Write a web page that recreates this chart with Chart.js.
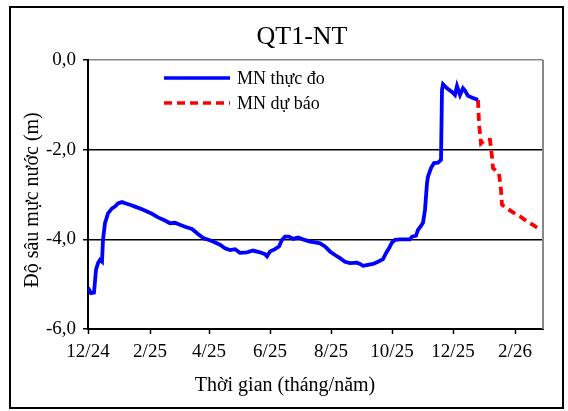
<!DOCTYPE html>
<html>
<head>
<meta charset="utf-8">
<script src="https://cdn.jsdelivr.net/npm/chart.js@4/dist/chart.umd.min.js"></script>
<style>
  body { margin: 0; background: #fff; }
  #wrap { width: 568px; height: 411px; }
</style>
</head>
<body>
<div id="wrap"><canvas id="gwChart" width="568" height="411"></canvas></div>
<script>
// ngày tính từ 1/12/2024
const obsDays = [0, 3, 6, 8, 10, 12, 14, 15, 17, 20, 24, 27, 30, 34, 38, 42, 47, 54, 59, 64, 70, 77, 82, 87, 90, 97, 104, 110, 116, 119, 125, 132, 137, 142, 147, 152, 159, 165, 172, 177, 179, 182, 187, 191, 194, 197, 201, 205, 210, 215, 222, 227, 232, 237, 242, 247, 252, 257, 262, 269, 272, 275, 280, 285, 290, 295, 298, 301, 304, 307, 312, 317, 322, 324, 328, 330, 333, 335, 337, 339, 340, 343, 346, 350, 353, 354, 355, 359, 364, 367, 369, 372, 375, 377, 380, 385, 390];
const obsDepth = [-5.08, -5.2, -5.19, -4.68, -4.53, -4.46, -4.5, -4.01, -3.64, -3.42, -3.31, -3.27, -3.2, -3.17, -3.2, -3.23, -3.27, -3.33, -3.38, -3.43, -3.51, -3.58, -3.64, -3.63, -3.66, -3.72, -3.77, -3.88, -3.98, -4.0, -4.05, -4.12, -4.2, -4.24, -4.22, -4.3, -4.29, -4.25, -4.29, -4.33, -4.38, -4.27, -4.22, -4.16, -4.01, -3.94, -3.94, -3.99, -3.96, -4.0, -4.05, -4.07, -4.09, -4.16, -4.27, -4.35, -4.42, -4.5, -4.53, -4.52, -4.55, -4.59, -4.57, -4.55, -4.5, -4.44, -4.31, -4.2, -4.07, -4.01, -4.0, -4.0, -4.0, -3.94, -3.92, -3.79, -3.7, -3.63, -3.34, -2.75, -2.6, -2.41, -2.3, -2.29, -2.23, -0.67, -0.54, -0.63, -0.71, -0.78, -0.58, -0.78, -0.63, -0.68, -0.8, -0.85, -0.89];

const fcDays = [390, 391, 393, 395, 398, 402, 404, 405, 409, 411, 413, 414, 419, 425, 432, 439, 445, 452];
const fcDepth = [-0.89, -1.41, -1.86, -1.82, -1.77, -1.78, -2.16, -2.41, -2.49, -2.53, -2.9, -3.23, -3.31, -3.4, -3.49, -3.6, -3.68, -3.78];

const tickDays = [0, 62, 121, 182, 243, 304, 365, 427];
const tickLabels = ["12/24", "2/25", "4/25", "6/25", "8/25", "10/25", "12/25", "2/26"];

const FONT = "'Liberation Serif', 'Times New Roman', serif";

const frame = {
  id: "frame",
  beforeDraw(chart) {
    const c = chart.ctx;
    c.save();
    c.fillStyle = "#fff";
    c.fillRect(0, 0, chart.width, chart.height);
    c.strokeStyle = "#000";
    c.lineWidth = 2;
    c.strokeRect(10, 7, 553, 401);
    c.restore();
  },
  afterDraw(chart) {
    const c = chart.ctx;
    const a = chart.chartArea;
    c.save();
    // vien phai mau xam
    c.strokeStyle = "#888";
    c.lineWidth = 2;
    c.beginPath();
    c.moveTo(a.right, a.top);
    c.lineTo(a.right, a.bottom);
    c.stroke();

    c.fillStyle = "#000";
    c.textAlign = "center";
    c.textBaseline = "middle";
    // tieu de
    c.font = "26px " + FONT;
    c.fillText("QT1-NT", 302, 37);
    // ten truc
    c.font = "20px " + FONT;
    c.fillText("Thời gian (tháng/năm)", 285, 386);
    c.save();
    c.translate(33, 200);
    c.rotate(-Math.PI / 2);
    c.fillText("Độ sâu mực nước (m)", 0, 0);
    c.restore();

    // chu giai
    c.lineWidth = 3.5;
    c.strokeStyle = "#0000ff";
    c.beginPath();
    c.moveTo(164, 78);
    c.lineTo(230, 78);
    c.stroke();
    c.strokeStyle = "#ff0000";
    c.setLineDash([8, 5]);
    c.beginPath();
    c.moveTo(164, 103);
    c.lineTo(230, 103);
    c.stroke();
    c.setLineDash([]);
    c.font = "18px " + FONT;
    c.textAlign = "left";
    c.fillText("MN thực đo", 237, 79);
    c.fillText("MN dự báo", 237, 104);
    c.restore();
  }
};

const ctx = document.getElementById("gwChart").getContext("2d");

new Chart(ctx, {
  type: "line",
  data: {
    datasets: [
      {
        label: "MN thực đo",
        data: obsDays.map((d, i) => ({ x: d, y: obsDepth[i] })),
        borderColor: "#0000ff",
        borderWidth: 3.8,
        pointRadius: 0,
        tension: 0
      },
      {
        label: "MN dự báo",
        data: fcDays.map((d, i) => ({ x: d, y: fcDepth[i] })),
        borderColor: "#ff0000",
        borderWidth: 3.8,
        borderDash: [8, 5],
        pointRadius: 0,
        tension: 0
      }
    ]
  },
  options: {
    responsive: false,
    animation: false,
    layout: { padding: { left: 18, right: 25, top: 60, bottom: 10 } },
    plugins: {
      legend: { display: false },
      title: { display: false },
      tooltip: { enabled: false }
    },
    scales: {
      x: {
        type: "linear",
        min: 0,
        max: 455,
        afterBuildTicks: s => { s.ticks = tickDays.map(v => ({ value: v })); },
        afterFit: s => { s.height = 411 - 329 - 10; },
        ticks: {
          color: "#000",
          font: { family: FONT, size: 19 },
          padding: 7,
          maxRotation: 0,
          autoSkip: false,
          callback: (v) => tickLabels[tickDays.indexOf(v)]
        },
        grid: { drawOnChartArea: false, tickLength: 5, tickColor: "#000", tickWidth: 1.5 },
        border: { color: "#000", width: 2 }
      },
      y: {
        min: -6,
        max: 0,
        afterBuildTicks: s => { s.ticks = [-6, -4, -2, 0].map(v => ({ value: v })); },
        afterFit: s => { s.width = 88 - 18; },
        ticks: {
          color: "#000",
          font: { family: FONT, size: 19 },
          padding: 7,
          callback: v => v.toFixed(1).replace(".", ",")
        },
        grid: {
          color: c => c.tick.value === 0 ? "#888" : (c.tick.value === -6 ? "rgba(0,0,0,0)" : "#000"),
          lineWidth: 1.5,
          tickLength: 5,
          tickColor: "#000"
        },
        border: { color: "#000", width: 2 }
      }
    }
  },
  plugins: [frame]
});
</script>
</body>
</html>
